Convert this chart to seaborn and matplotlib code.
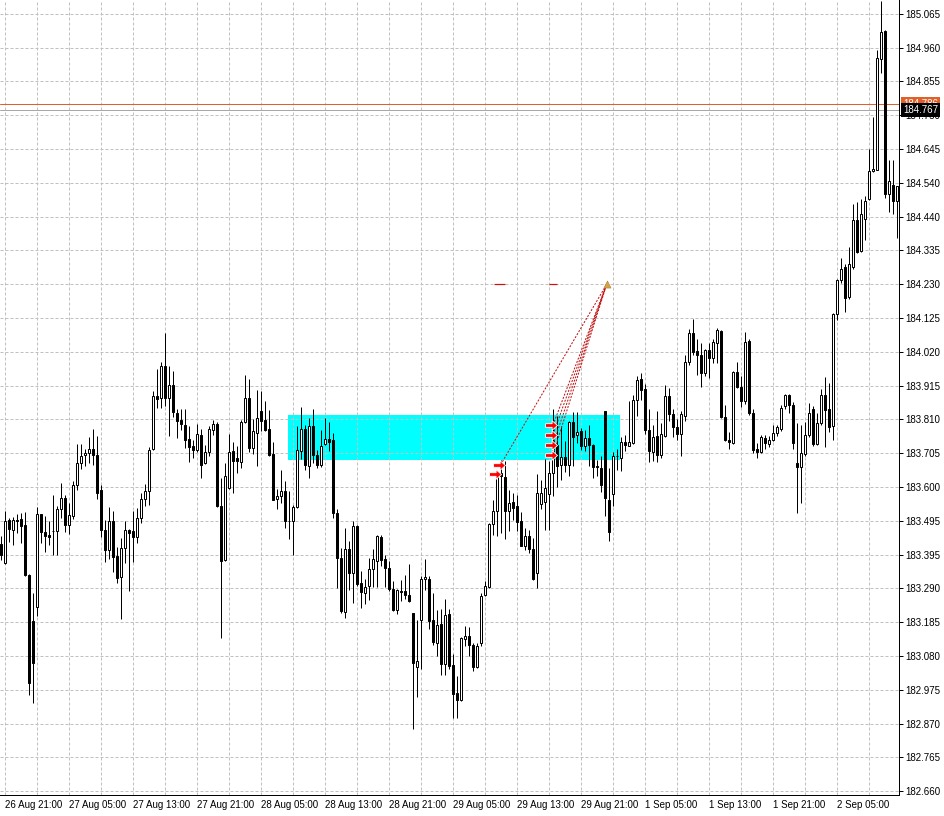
import matplotlib
matplotlib.use('Agg')
import matplotlib.pyplot as plt
import seaborn as sns
import pandas as pd
import numpy as np

#================================================
# DATA (30 min candles)

opens = [183.425, 183.366, 183.498, 183.467, 183.499, 183.502, 183.482, 183.329, 183.185, 183.230,
         183.516, 183.463, 183.451, 183.464, 183.464, 183.533, 183.568, 183.485, 183.510, 183.606,
         183.675, 183.700, 183.706, 183.720, 183.701, 183.593, 183.467, 183.405, 183.495, 183.389,
         183.323, 183.413, 183.469, 183.465, 183.447, 183.505, 183.564, 183.589, 183.719, 183.883,
         183.876, 183.976, 183.876, 183.917, 183.830, 183.807, 183.794, 183.749, 183.727, 183.714,
         183.763, 183.675, 183.708, 183.778, 183.796, 183.543, 183.374, 183.598, 183.711, 183.690,
         183.677, 183.801, 183.876, 183.722, 183.768, 183.835, 183.807, 183.780, 183.704, 183.564,
         183.574, 183.590, 183.497, 183.495, 183.539, 183.711, 183.780, 183.665, 183.789, 183.701,
         183.670, 183.734, 183.749, 183.745, 183.521, 183.382, 183.214, 183.410, 183.335, 183.480,
         183.304, 183.274, 183.294, 183.346, 183.371, 183.447, 183.377, 183.351, 183.286, 183.220,
         183.280, 183.279, 183.268, 183.210, 183.045, 183.191, 183.315, 183.317, 183.189, 183.119,
         183.176, 183.052, 183.207, 183.049, 182.963, 182.942, 183.131, 183.140, 183.111, 183.045,
         183.119, 183.268, 183.292, 183.488, 183.526, 183.644, 183.632, 183.526, 183.554, 183.541,
         183.495, 183.420, 183.449, 183.410, 183.335, 183.547, 183.554, 183.580, 183.644, 183.732,
         183.670, 183.694, 183.670, 183.801, 183.763, 183.773, 183.729, 183.753, 183.732, 183.665,
         183.660, 183.835, 183.560, 183.580, 183.696, 183.690, 183.741, 183.729, 183.737, 183.869,
         183.935, 183.904, 183.778, 183.708, 183.760, 183.701, 183.760, 183.883, 183.828, 183.786,
         183.766, 183.821, 183.989, 184.079, 184.023, 184.010, 183.955, 184.025, 184.000, 184.048,
         184.085, 183.817, 183.747, 183.737, 183.958, 183.910, 183.866, 184.053, 183.829, 183.720,
         183.710, 183.754, 183.734, 183.748, 183.769, 183.779, 183.851, 183.887, 183.854, 183.676,
         183.662, 183.703, 183.762, 183.841, 183.734, 183.798, 183.887, 183.841, 183.789, 184.136,
         184.243, 184.282, 184.189, 184.282, 184.428, 184.331, 184.431, 184.493, 184.578, 184.583,
         184.926, 185.011, 184.508, 184.537, 184.486]
highs = [183.449, 183.526, 183.505, 183.508, 183.516, 183.521, 183.523, 183.331, 183.274, 183.539,
         183.518, 183.510, 183.495, 183.575, 183.543, 183.613, 183.575, 183.552, 183.619, 183.734,
         183.734, 183.719, 183.756, 183.781, 183.758, 183.608, 183.498, 183.539, 183.526, 183.416,
         183.444, 183.497, 183.471, 183.526, 183.536, 183.583, 183.611, 183.725, 183.897, 183.966,
         183.989, 184.079, 183.976, 183.959, 183.842, 183.842, 183.842, 183.789, 183.747, 183.797,
         183.780, 183.732, 183.789, 183.809, 183.801, 183.629, 183.675, 183.766, 183.739, 183.727,
         183.809, 183.948, 183.935, 183.811, 183.900, 183.897, 183.866, 183.840, 183.739, 183.595,
         183.655, 183.619, 183.588, 183.546, 183.789, 183.850, 183.794, 183.814, 183.842, 183.716,
         183.776, 183.814, 183.801, 183.768, 183.533, 183.413, 183.474, 183.433, 183.495, 183.485,
         183.340, 183.317, 183.382, 183.410, 183.454, 183.454, 183.392, 183.371, 183.310, 183.286,
         183.313, 183.330, 183.364, 183.212, 183.191, 183.325, 183.377, 183.325, 183.272, 183.220,
         183.224, 183.253, 183.222, 183.083, 183.016, 183.138, 183.171, 183.169, 183.119, 183.119,
         183.274, 183.310, 183.490, 183.562, 183.644, 183.686, 183.680, 183.593, 183.583, 183.577,
         183.523, 183.474, 183.469, 183.444, 183.642, 183.624, 183.688, 183.680, 183.842, 183.821,
         183.789, 183.742, 183.804, 183.832, 183.832, 183.783, 183.778, 183.794, 183.735, 183.686,
         183.696, 183.835, 183.660, 183.708, 183.718, 183.757, 183.763, 183.866, 183.886, 183.943,
         183.955, 183.920, 183.842, 183.794, 183.835, 183.799, 183.917, 183.907, 183.842, 183.811,
         183.835, 184.010, 184.089, 184.120, 184.058, 184.046, 184.027, 184.046, 184.058, 184.092,
         184.087, 183.855, 183.770, 183.961, 183.989, 183.945, 184.082, 184.060, 183.841, 183.736,
         183.762, 183.762, 183.759, 183.793, 183.793, 183.854, 183.890, 183.890, 183.865, 183.800,
         183.793, 183.803, 183.862, 183.851, 183.829, 183.903, 183.942, 183.923, 184.138, 184.246,
         184.311, 184.292, 184.344, 184.478, 184.483, 184.493, 184.503, 184.647, 184.747, 184.953,
         185.106, 185.015, 184.613, 184.613, 184.534]
lows = [183.374, 183.364, 183.430, 183.421, 183.459, 183.428, 183.327, 182.956, 182.932, 183.203,
        183.428, 183.399, 183.423, 183.392, 183.392, 183.505, 183.461, 183.457, 183.502, 183.593,
        183.657, 183.667, 183.675, 183.670, 183.564, 183.447, 183.369, 183.377, 183.337, 183.304,
        183.193, 183.366, 183.279, 183.368, 183.428, 183.490, 183.541, 183.546, 183.714, 183.845,
        183.845, 183.852, 183.760, 183.817, 183.753, 183.778, 183.722, 183.677, 183.691, 183.708,
        183.629, 183.672, 183.696, 183.763, 183.539, 183.134, 183.372, 183.595, 183.583, 183.644,
        183.660, 183.799, 183.708, 183.704, 183.667, 183.773, 183.773, 183.696, 183.560, 183.533,
        183.550, 183.474, 183.440, 183.392, 183.536, 183.688, 183.653, 183.629, 183.675, 183.660,
        183.663, 183.732, 183.711, 183.505, 183.289, 183.212, 183.196, 183.282, 183.241, 183.296,
        183.227, 183.238, 183.251, 183.292, 183.292, 183.356, 183.292, 183.279, 183.217, 183.207,
        183.248, 183.255, 183.246, 182.853, 182.952, 183.039, 183.282, 183.162, 183.111, 183.078,
        183.018, 183.018, 183.037, 182.887, 182.887, 182.939, 183.109, 183.078, 183.031, 183.042,
        183.109, 183.263, 183.289, 183.454, 183.449, 183.459, 183.440, 183.464, 183.500, 183.464,
        183.418, 183.405, 183.397, 183.313, 183.289, 183.533, 183.469, 183.469, 183.572, 183.601,
        183.624, 183.649, 183.636, 183.665, 183.737, 183.714, 183.711, 183.665, 183.629, 183.634,
        183.587, 183.510, 183.433, 183.543, 183.654, 183.652, 183.711, 183.727, 183.735, 183.821,
        183.871, 183.766, 183.677, 183.680, 183.677, 183.690, 183.757, 183.804, 183.755, 183.745,
        183.698, 183.804, 183.979, 184.010, 183.948, 183.910, 183.945, 183.938, 183.986, 183.986,
        183.814, 183.742, 183.718, 183.735, 183.907, 183.850, 183.858, 183.823, 183.705, 183.690,
        183.705, 183.720, 183.726, 183.744, 183.759, 183.775, 183.841, 183.831, 183.720, 183.520,
        183.550, 183.697, 183.757, 183.728, 183.731, 183.793, 183.724, 183.772, 183.748, 184.119,
        184.232, 184.143, 184.184, 184.277, 184.325, 184.328, 184.366, 184.490, 184.575, 184.581,
        184.881, 184.496, 184.452, 184.447, 184.372]
closes = [183.392, 183.495, 183.471, 183.498, 183.495, 183.480, 183.329, 182.995, 183.057, 183.516,
          183.463, 183.449, 183.445, 183.465, 183.534, 183.567, 183.485, 183.513, 183.608, 183.675,
          183.698, 183.706, 183.720, 183.699, 183.583, 183.467, 183.405, 183.495, 183.385, 183.320,
          183.413, 183.469, 183.459, 183.447, 183.505, 183.564, 183.589, 183.716, 183.883, 183.873,
          183.976, 183.876, 183.917, 183.832, 183.804, 183.797, 183.745, 183.725, 183.714, 183.766,
          183.670, 183.708, 183.780, 183.796, 183.541, 183.371, 183.634, 183.708, 183.683, 183.680,
          183.803, 183.876, 183.722, 183.773, 183.814, 183.804, 183.778, 183.701, 183.562, 183.574,
          183.588, 183.495, 183.495, 183.539, 183.716, 183.780, 183.670, 183.789, 183.701, 183.670,
          183.729, 183.749, 183.739, 183.521, 183.382, 183.217, 183.410, 183.335, 183.480, 183.302,
          183.276, 183.292, 183.346, 183.379, 183.449, 183.374, 183.351, 183.284, 183.220, 183.282,
          183.276, 183.268, 183.248, 183.057, 183.062, 183.315, 183.323, 183.186, 183.121, 183.173,
          183.052, 183.204, 183.047, 182.959, 182.942, 183.135, 183.140, 183.111, 183.045, 183.109,
          183.265, 183.294, 183.488, 183.526, 183.634, 183.634, 183.526, 183.550, 183.536, 183.492,
          183.420, 183.449, 183.410, 183.315, 183.583, 183.583, 183.598, 183.644, 183.742, 183.665,
          183.694, 183.670, 183.801, 183.756, 183.770, 183.727, 183.753, 183.732, 183.663, 183.663,
          183.608, 183.567, 183.461, 183.698, 183.698, 183.739, 183.732, 183.739, 183.871, 183.933,
          183.902, 183.776, 183.711, 183.757, 183.701, 183.766, 183.883, 183.828, 183.786, 183.766,
          183.828, 183.989, 184.079, 184.020, 184.010, 183.955, 184.025, 184.000, 184.051, 184.087,
          183.817, 183.745, 183.739, 183.958, 183.912, 183.866, 184.051, 183.829, 183.715, 183.710,
          183.757, 183.736, 183.748, 183.769, 183.787, 183.847, 183.887, 183.854, 183.736, 183.662,
          183.705, 183.762, 183.831, 183.734, 183.800, 183.887, 183.839, 183.787, 184.136, 184.243,
          184.277, 184.187, 184.290, 184.428, 184.328, 184.447, 184.486, 184.578, 184.586, 184.929,
          185.008, 184.508, 184.548, 184.486, 184.531]

time_labels = ['26 Aug 21:00', '27 Aug 05:00', '27 Aug 13:00', '27 Aug 21:00', '28 Aug 05:00',
               '28 Aug 13:00', '28 Aug 21:00', '29 Aug 05:00', '29 Aug 13:00', '29 Aug 21:00',
               '1 Sep 05:00', '1 Sep 13:00', '1 Sep 21:00', '2 Sep 05:00']
price_labels = ['182.660', '182.765', '182.870', '182.975', '183.080', '183.185', '183.290', '183.395',
                '183.495', '183.600', '183.705', '183.810', '183.915', '184.020', '184.125', '184.230',
                '184.335', '184.440', '184.540', '184.645', '184.750', '184.855', '184.960', '185.065']

# supply/demand zone (bar index range, price range)
zone_bars = [71.75, 154.75]
zone_prices = [183.686, 183.825]

# trade entries (bar index, price) and their common target
entry_bars = [123.4, 124.4, 137.5, 137.5, 137.5, 137.5]
entry_prices = [183.641, 183.670, 183.701, 183.732, 183.763, 183.793]
linked_entries = [1, 2, 3, 4, 5]
target_bar = 151.4
target_price = 184.228
tp_bars = [[123.3, 126.0], [137.1, 139.0]]

ask_line = 184.786
bid_line = 184.767

#================================================
# PLOTTING

sns.set_style('white')
plt.rcParams['font.family'] = ['Liberation Sans', 'DejaVu Sans']

df = pd.DataFrame({'open': opens, 'high': highs, 'low': lows, 'close': closes})
df['bar'] = np.arange(len(df))
up = df['close'] >= df['open']

PX = 0.72  # one pixel in points at dpi 100
fig = plt.figure(figsize=(9.45, 8.16), dpi=100)
ax = fig.add_axes([0, 21 / 816, 899 / 945, 795 / 816])

# zone
ax.fill_between(zone_bars, zone_prices[0], zone_prices[1], color='#00ffff', lw=0, zorder=0.2)

# horizontal price lines
ax.axhline(ask_line, color='#e0602a', lw=PX, zorder=1.5)
ax.axhline(bid_line, color='#a8a8a8', lw=PX, zorder=1.5)

# candles
ax.vlines(df['bar'], df['low'], df['high'], color='black', lw=PX, zorder=2)
ax.bar(df['bar'][up], (df['close'] - df['open'])[up], bottom=df['open'][up], width=0.5,
       facecolor='white', edgecolor='black', lw=PX, zorder=3)
ax.bar(df['bar'][~up], (df['open'] - df['close'])[~up], bottom=df['close'][~up], width=0.5,
       facecolor='black', edgecolor='black', lw=PX, zorder=3)

# trade lines to target
for i in linked_entries:
    ax.plot([entry_bars[i] + 0.5, target_bar], [entry_prices[i], target_price],
            color='#c01010', lw=PX, ls=(0, (2, 1.5)), zorder=4)
for b0, b1 in tp_bars:
    ax.hlines(target_price, b0, b1, color='#d01010', lw=PX * 1.2, zorder=4)

arrow = [(-1, -0.3), (0.1, -0.3), (0.1, -0.8), (1, 0), (0.1, 0.8), (0.1, 0.3), (-1, 0.3), (-1, -0.3)]
sns.scatterplot(x=entry_bars, y=entry_prices, marker=arrow, s=75, color='#ff0000',
                edgecolor='white', linewidth=0.6, ax=ax, zorder=5)
sns.scatterplot(x=[target_bar], y=[target_price], marker='^', s=26, color='#d4a24a',
                edgecolor='#b08030', linewidth=0.4, ax=ax, zorder=5)

# axes
ax.set_xlim(-0.25, 224.5)
ax.set_ylim(182.648, 185.108)

ax.set_xticks(np.arange(1, len(df), 16))
ax.set_xticklabels(time_labels, ha='left')
ax.set_xticks(np.arange(1, len(df), 8), minor=True)
ax.yaxis.tick_right()
ax.set_yticks(np.linspace(float(price_labels[0]), float(price_labels[-1]), len(price_labels)))
ax.set_yticklabels(price_labels)

ax.tick_params(axis='x', which='major', direction='out', length=4 * PX, width=PX, pad=1,
               labelsize=7, colors='black')
ax.tick_params(axis='x', which='minor', length=0)
ax.tick_params(axis='y', direction='out', length=4 * PX, width=PX, pad=2, labelsize=7,
               colors='black', right=True, left=False)

ax.set_axisbelow(True)
ax.grid(True, axis='x', which='both', color='#c0c0c0', lw=PX, ls=(0, (3, 2)))
ax.grid(True, axis='y', which='major', color='#c0c0c0', lw=PX, ls=(0, (3, 2)))

for side in ['left', 'top']:
    ax.spines[side].set_visible(False)
for side in ['right', 'bottom']:
    ax.spines[side].set_color('black')
    ax.spines[side].set_linewidth(PX)

# price labels on the right axis (drawn over each other, as in the terminal)
for val, fc in [(ask_line, '#e0602a'), (bid_line, 'black')]:
    ax.annotate(f'{val:.3f}', xy=(1, val), xycoords=('axes fraction', 'data'),
                xytext=(3, 0), textcoords='offset points', ha='left', va='center',
                color='white', fontsize=7,
                bbox=dict(boxstyle='square,pad=0.2', fc=fc, ec='none'),
                annotation_clip=False, zorder=10)

ax.set_xlabel('')
ax.set_ylabel('')
fig.savefig('out.png', dpi=100)
